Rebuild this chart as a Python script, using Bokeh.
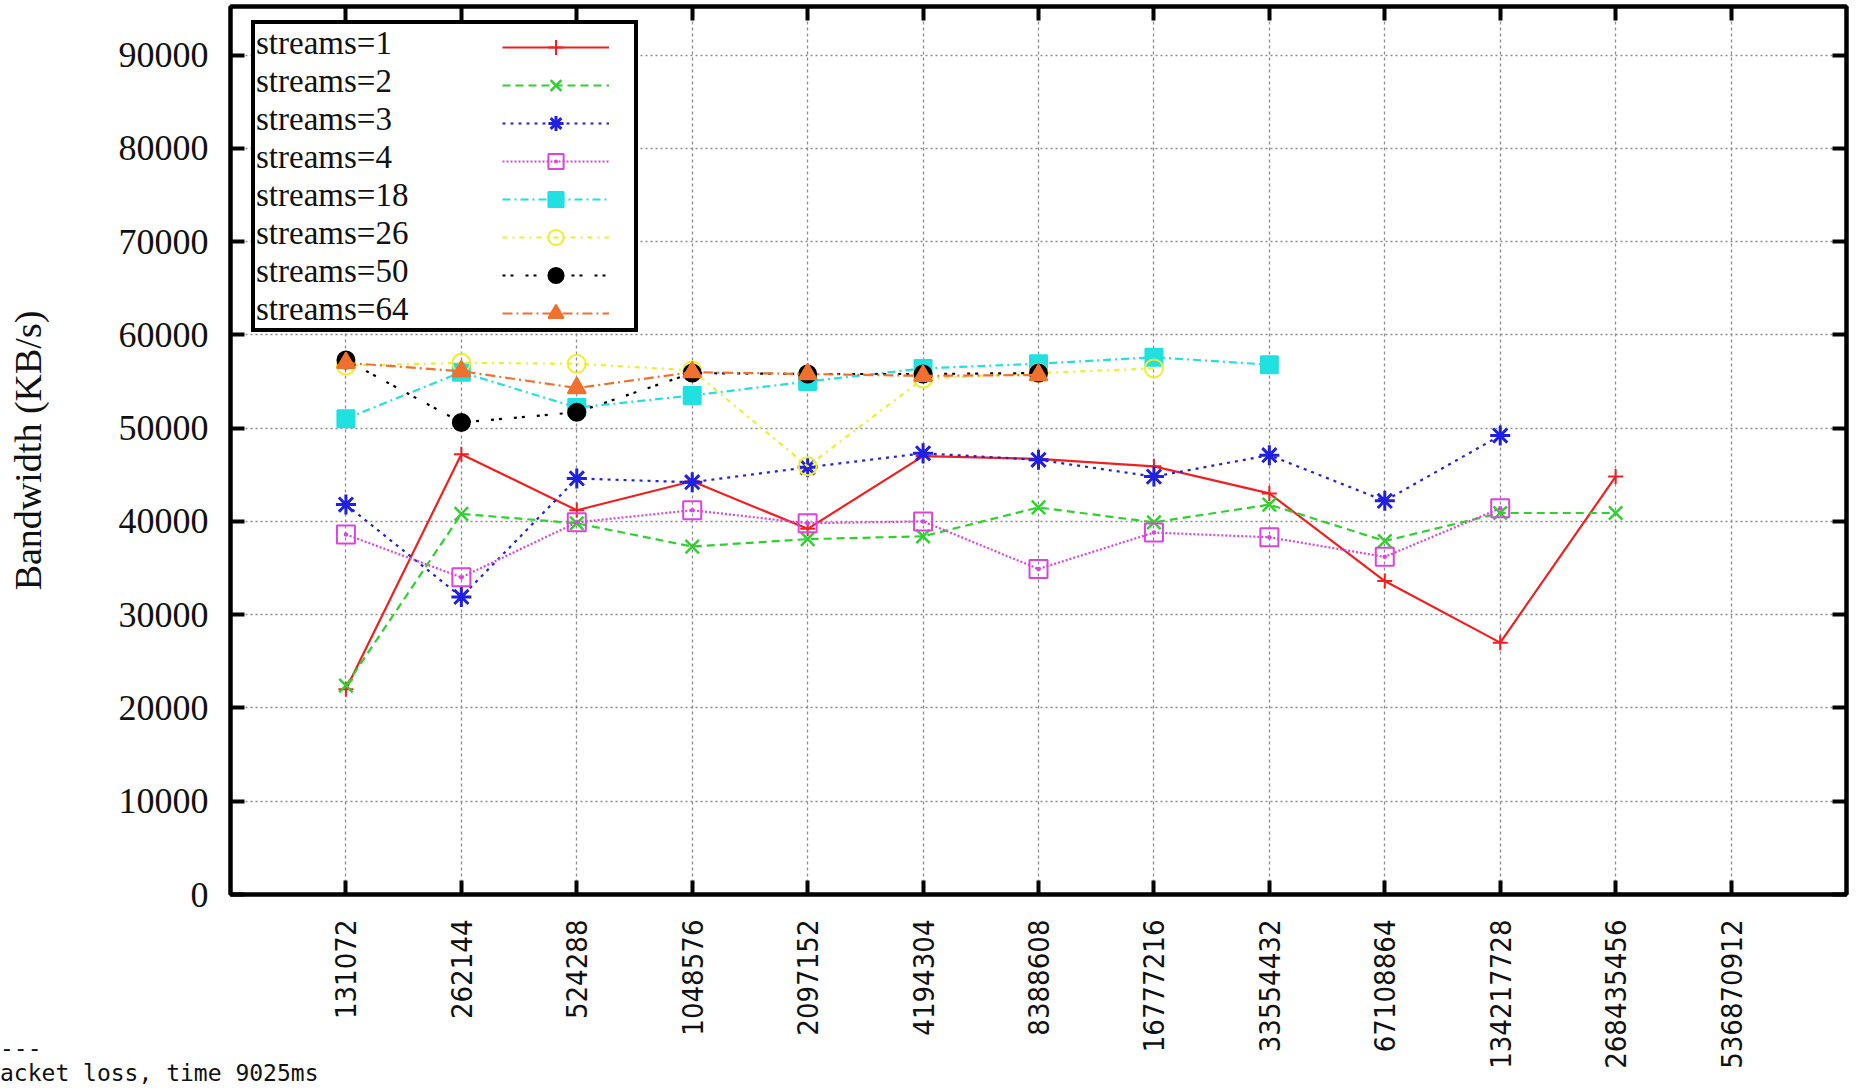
from bokeh.plotting import figure
from bokeh.layouts import column
from bokeh.models import (Range1d, FixedTicker, PrintfTickFormatter, LogAxis, LinearAxis,
                          Legend, LegendItem, Div)
from bokeh.embed import file_html
from bokeh.resources import INLINE

# ---------------- data ----------------
sizes = [131072, 262144, 524288, 1048576, 2097152, 4194304, 8388608,
         16777216, 33554432, 67108864, 134217728, 268435456, 536870912]
y_ticks = [0, 10000, 20000, 30000, 40000, 50000, 60000, 70000, 80000, 90000]

series_names = ["streams=1", "streams=2", "streams=3", "streams=4",
                "streams=18", "streams=26", "streams=50", "streams=64"]
s1 = [22000, 47200, 41200, 44300, 39200, 47000, 46700, 45900, 43000, 33600, 27000, 44800]
s2 = [22400, 40800, 39800, 37300, 38100, 38400, 41500, 39900, 41800, 37900, 40900, 40900]
s3 = [41800, 31900, 44600, 44200, 45800, 47300, 46600, 44800, 47100, 42200, 49200]
s4 = [38600, 34000, 39900, 41200, 39800, 40000, 34900, 38800, 38300, 36200, 41400]
s18 = [51000, 56000, 52200, 53500, 55000, 56400, 56900, 57600, 56800]
s26 = [56700, 57000, 56900, 56200, 45900, 55300, 55900, 56400]
s50 = [57300, 50600, 51700, 55900, 55800, 55800, 55900]
s64 = [57000, 56100, 54300, 56000, 55800, 55600, 55700]
series_values = [s1, s2, s3, s4, s18, s26, s50, s64]

terminal_lines = ["---", "acket loss, time 9025ms"]

# ---------------- styles ----------------
styles = [
    dict(color="#f02020", dash="solid", marker="cross", size=15, fill=None, lw=2),
    dict(color="#30d030", dash="8 5", marker="x", size=19, fill=None, lw=2.5),
    dict(color="#2020e0", dash="3 5", marker="asterisk", size=20, fill=None, lw=3),
    dict(color="#dd44dd", dash="2 2", marker="square_dot", size=18, fill=None, lw=2),
    dict(color="#20e0e0", dash="8 4 2 4", marker="square", size=17, fill="#20e0e0", lw=2),
    dict(color="#eeee30", dash="5 5 2 5", marker="circle", size=18, fill=None, lw=2),
    dict(color="#000000", dash="3 5 3 12", marker="circle", size=17, fill="#000000", lw=2),
    dict(color="#f07030", dash="10 4 2 4", marker="triangle", size=18, fill="#f07030", lw=2),
]

FRAME_W, FRAME_H = 1616, 888

p = figure(x_axis_type="log", output_backend="svg", toolbar_location=None,
           frame_width=FRAME_W, frame_height=FRAME_H,
           min_border_left=230, min_border_right=9, min_border_top=6, min_border_bottom=198,
           x_range=Range1d(2 ** 16, 2 ** 30), y_range=Range1d(0, 95200))
p.background_fill_color = "white"
p.border_fill_color = "white"
p.outline_line_color = "black"
p.outline_line_width = 4

xt = FixedTicker(ticks=sizes)
yt = FixedTicker(ticks=y_ticks)

xa = p.xaxis[0]
xa.ticker = xt
xa.formatter = PrintfTickFormatter(format="%d")
xa.major_label_orientation = 1.5707963
xa.major_label_text_font = "DejaVu Sans Condensed, DejaVu Sans"
xa.major_label_text_font_size = "29px"
xa.major_label_text_color = "#111111"
xa.major_label_standoff = 25

ya = p.yaxis[0]
ya.ticker = yt
ya.formatter = PrintfTickFormatter(format="%d")
ya.major_label_text_font = "Liberation Serif"
ya.major_label_text_font_size = "36px"
ya.major_label_text_color = "#111111"
ya.major_label_standoff = 22
ya.axis_label = "Bandwidth (KB/s)"
ya.axis_label_text_font = "Liberation Serif"
ya.axis_label_text_font_size = "38px"
ya.axis_label_text_font_style = "normal"
ya.axis_label_text_color = "#111111"
ya.axis_label_standoff = 67

top_axis = LogAxis(ticker=xt, major_label_text_font_size="1px", major_label_standoff=0,
                   major_label_text_color=None)
right_axis = LinearAxis(ticker=yt, major_label_text_font_size="1px", major_label_standoff=0,
                        major_label_text_color=None)
p.add_layout(top_axis, "above")
p.add_layout(right_axis, "right")

for ax in [xa, ya, top_axis, right_axis]:
    ax.axis_line_color = "black"
    ax.axis_line_width = 4
    ax.major_tick_in = 14
    ax.major_tick_out = 0
    ax.major_tick_line_width = 4
    ax.major_tick_line_color = "black"
    ax.minor_tick_line_color = None

p.xgrid.ticker = xt
p.ygrid.ticker = yt
p.xgrid.grid_line_color = "#8c8c8c"
p.xgrid.grid_line_dash = "3 3"
p.xgrid.grid_line_width = 1.3
p.ygrid.grid_line_color = "#8c8c8c"
p.ygrid.grid_line_dash = "2 3"
p.ygrid.grid_line_width = 1.5

# ---------------- series ----------------
glyph_items = []
for name, vals, st in zip(series_names, series_values, styles):
    xs = sizes[:len(vals)]
    lr = p.line(xs, vals, line_color=st["color"], line_width=2.2, line_dash=st["dash"])
    sr = p.scatter(xs, vals, marker=st["marker"], size=st["size"],
                   line_color=st["color"], line_width=st["lw"],
                   fill_color=st["fill"], fill_alpha=1.0 if st["fill"] else 0.0)
    glyph_items.append(LegendItem(label=" ", renderers=[lr, sr]))

# legend: text column (with the box) + glyph column drawn on top of it
dummy = p.scatter([], [], alpha=0)
ROW_H = 38
vy = 562  # legend bottom, measured up from the frame bottom

text_legend = Legend(
    items=[LegendItem(label=n, renderers=[dummy]) for n in series_names],
    location=(21, vy), margin=0, padding=0, spacing=0,
    glyph_width=0, glyph_height=ROW_H, label_height=ROW_H, label_width=378,
    label_standoff=1, label_text_font="Liberation Serif", label_text_font_size="33px",
    label_text_color="#111111",
    border_line_color="black", border_line_width=4, border_line_alpha=1.0,
    background_fill_color="white", background_fill_alpha=1.0)

glyph_legend = Legend(
    items=glyph_items, location=(272, vy), margin=0, padding=0, spacing=0,
    glyph_width=107, glyph_height=ROW_H, label_height=ROW_H, label_width=1,
    label_standoff=0, label_text_font_size="1px", label_text_color=None,
    border_line_color=None, background_fill_alpha=0.0)

p.add_layout(text_legend)
p.add_layout(glyph_legend)

# terminal leftovers at the bottom-left, overlaid on the empty corner of the figure
term = Div(
    text="<pre style='margin:0;font-family:\"DejaVu Sans Mono\",monospace;font-size:23px;"
         "line-height:25px;color:#111;'>" + "\n".join(terminal_lines) + "</pre>",
    width=420, height=50, margin=(-56, 0, 0, 0))

layout = column(p, term, spacing=0)
open("out.html", "w").write(file_html(layout, INLINE))
